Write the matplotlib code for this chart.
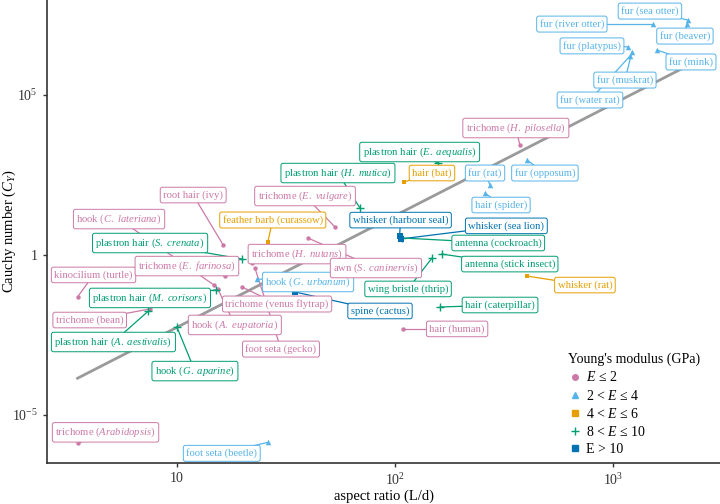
import matplotlib

matplotlib.use("Agg")
import matplotlib.pyplot as plt
import numpy as np
from matplotlib.lines import Line2D

plt.rcParams["font.family"] = ["Liberation Serif", "DejaVu Serif"]
plt.rcParams["mathtext.fontset"] = "custom"
plt.rcParams["mathtext.rm"] = "Liberation Serif"
plt.rcParams["mathtext.it"] = "Liberation Serif:italic"

# ---- data ----
names = [
    r"trichome ($\mathit{Arabidopsis}$)", "kinocilium (turtle)", "trichome (bean)",
    r"plastron hair ($\mathit{A.\ aestivalis}$)", r"hook ($\mathit{G.\ aparine}$)",
    r"plastron hair ($\mathit{M.\ corisors}$)", r"hook ($\mathit{C.\ lateriana}$)",
    r"hook ($\mathit{A.\ eupatoria}$)", r"trichome ($\mathit{E.\ farinosa}$)", "root hair (ivy)",
    r"plastron hair ($\mathit{S.\ crenata}$)", r"trichome ($\mathit{H.\ nutans}$)", "foot seta (gecko)",
    "trichome (venus flytrap)", r"hook ($\mathit{G.\ urbanum}$)", "feather barb (curassow)",
    "foot seta (beetle)", "spine (cactus)", r"awn ($\mathit{S.\ caninervis}$)",
    r"trichome ($\mathit{E.\ vulgare}$)", r"plastron hair ($\mathit{H.\ mutica}$)",
    "whisker (harbour seal)", "whisker (sea lion)", "antenna (cockroach)", "hair (bat)",
    "hair (human)", "wing bristle (thrip)", "antenna (stick insect)", "hair (caterpillar)",
    r"plastron hair ($\mathit{E.\ aequalis}$)", "hair (spider)", "fur (rat)",
    r"trichome ($\mathit{H.\ pilosella}$)", "fur (opposum)", "whisker (rat)", "fur (platypus)",
    "fur (muskrat)", "fur (water rat)", "fur (river otter)", "fur (sea otter)", "fur (beaver)",
    "fur (mink)",
]
aspect_ratio = [
    3.5, 3.5, 7.5, 7.4, 10.0, 15.1, 14.8, 15.4, 16.6, 16.3, 19.9, 22.1, 22.8, 19.9, 23.3, 26.1,
    26.1, 34.8, 39.9, 53.1, 69.1, 105, 107, 108, 110, 109, 148, 164, 161, 157, 259, 273, 374,
    403, 403, 1172, 1222, 1197, 1524, 2208, 2184, 1592,
]
cauchy = [
    1.3e-6, 0.049, 0.0205, 0.0178, 0.0056, 0.081, 0.115, 0.087, 0.22, 2.05, 0.75, 0.56, 0.39,
    0.10, 0.178, 2.55, 1.4e-6, 0.07, 3.4, 7.5, 29.4, 3.9, 3.2, 3.4, 191, 0.0049, 0.81, 1.07,
    0.0237, 750, 86.6, 154, 2740, 930, 0.22, 3.2e6, 2.2e6, 1.66e6, 1.65e7, 2.2e7, 1.65e7, 2.56e6,
]
modulus_class = [
    0, 0, 0, 3, 3, 3, 0, 0, 0, 0, 3, 0, 0, 0, 1, 2, 1, 4, 0, 0, 3, 4, 4, 3, 2, 0, 3, 3, 3, 3,
    1, 1, 0, 1, 2, 1, 1, 1, 1, 1, 1, 1,
]
class_labels = [r"$E$ ≤ 2", r"2 < $E$ ≤ 4", r"4 < $E$ ≤ 6", r"8 < $E$ ≤ 10", "E > 10"]
fit_intercept = -5.75
fit_slope = 3.49

# ---- style / layout ----
class_colors = ["#CC79A7", "#56B4E9", "#E69F00", "#009E73", "#0072B2"]
class_markers = ["o", "^", "s", "+", "s"]
class_sizes = [10, 16, 12, 30, 16]
# label box offsets from each point, in pixels (x right, y up)
label_offsets = [
    (28, 11), (16, 22), (-60, -11), (-35, -31), (18, -44), (-66, -8), (-95, 66), (17, -36),
    (-38, 10), (-30, 50), (-92, 16), (45, 9), (26, -81), (35, -17), (51, -3), (5, 22),
    (-46, -11), (85, -19), (68, -30), (-30, 31), (-22, 35), (1, 16), (105, 13), (96, -5),
    (28, 9), (54, 0), (-24, -31), (68, -10), (60, 2), (-18, 11), (16, -12), (-5, 12),
    (-4, 17), (18, -13), (58, -9), (-36, 1), (-7, -28), (-40, -44), (-81, 0), (-38, 9),
    (-2, -12), (34, -12),
]

fig = plt.figure(figsize=(7.2, 5.04), dpi=100)
ax = fig.add_axes([47 / 720, 41 / 504, 673 / 720, 463 / 504])
ax.set_xscale("log")
ax.set_yscale("log")
ax.set_xlim(10 ** 0.404, 10 ** 3.491)
ax.set_ylim(10 ** -6.5, 10 ** 7.97)

x = np.array(aspect_ratio, dtype=float)
y = np.array(cauchy, dtype=float)
cls = np.array(modulus_class)

# fit line
xs = np.array([x.min(), x.max()])
ax.plot(xs, 10 ** (fit_intercept + fit_slope * np.log10(xs)), color="#9a9a9a", lw=2.0, zorder=1)

# label positions in data coords
pix = ax.transData.transform(np.column_stack([x, y]))
lab = ax.transData.inverted().transform(pix + np.array(label_offsets, dtype=float))

for i in range(len(x)):
    c = class_colors[cls[i]]
    ax.plot([x[i], lab[i, 0]], [y[i], lab[i, 1]], color=c, lw=0.9, zorder=2)

for k in range(5):
    m = cls == k
    ax.scatter(x[m], y[m], s=class_sizes[k], marker=class_markers[k], color=class_colors[k],
               linewidths=1.0 if class_markers[k] == "+" else 0, zorder=3)

for i in range(len(x)):
    c = class_colors[cls[i]]
    ax.text(lab[i, 0], lab[i, 1], names[i], ha="center", va="center", fontsize=7.7, color=c,
            zorder=4, bbox=dict(boxstyle="round,pad=0.28,rounding_size=0.2", fc="white", ec=c, lw=0.7))

ax.set_xticks([10, 100, 1000])
ax.set_xticklabels(["10", r"$10^2$", r"$10^3$"])
ax.set_yticks([1e-5, 1, 1e5])
ax.set_yticklabels([r"$10^{-5}$", "1", r"$10^5$"])
ax.minorticks_off()
ax.tick_params(labelsize=10, length=3, width=1, colors="#333333")
for side in ["top", "right"]:
    ax.spines[side].set_visible(False)
for side in ["left", "bottom"]:
    ax.spines[side].set_linewidth(1.2)
    ax.spines[side].set_color("#333333")

ax.set_xlabel("aspect ratio (L/d)", fontsize=10.5)
ax.set_ylabel(r"Cauchy number ($C_Y$)", fontsize=10.5)
ax.xaxis.set_label_coords(0.5, -0.057)
ax.yaxis.set_label_coords(-0.043, 0.5)

handles = [Line2D([], [], ls="none", marker=class_markers[k], color=class_colors[k],
                  markersize=4 if class_markers[k] != "+" else 6, mew=1.0) for k in range(5)]
leg = ax.legend(handles, class_labels, title="Young's modulus (GPa)", loc="upper left",
                bbox_to_anchor=(0.756, 0.265), frameon=False, fontsize=10, title_fontsize=10,
                handletextpad=0.3, handlelength=1.0, labelspacing=0.3, alignment="left")

fig.savefig("out.png", dpi=100)
